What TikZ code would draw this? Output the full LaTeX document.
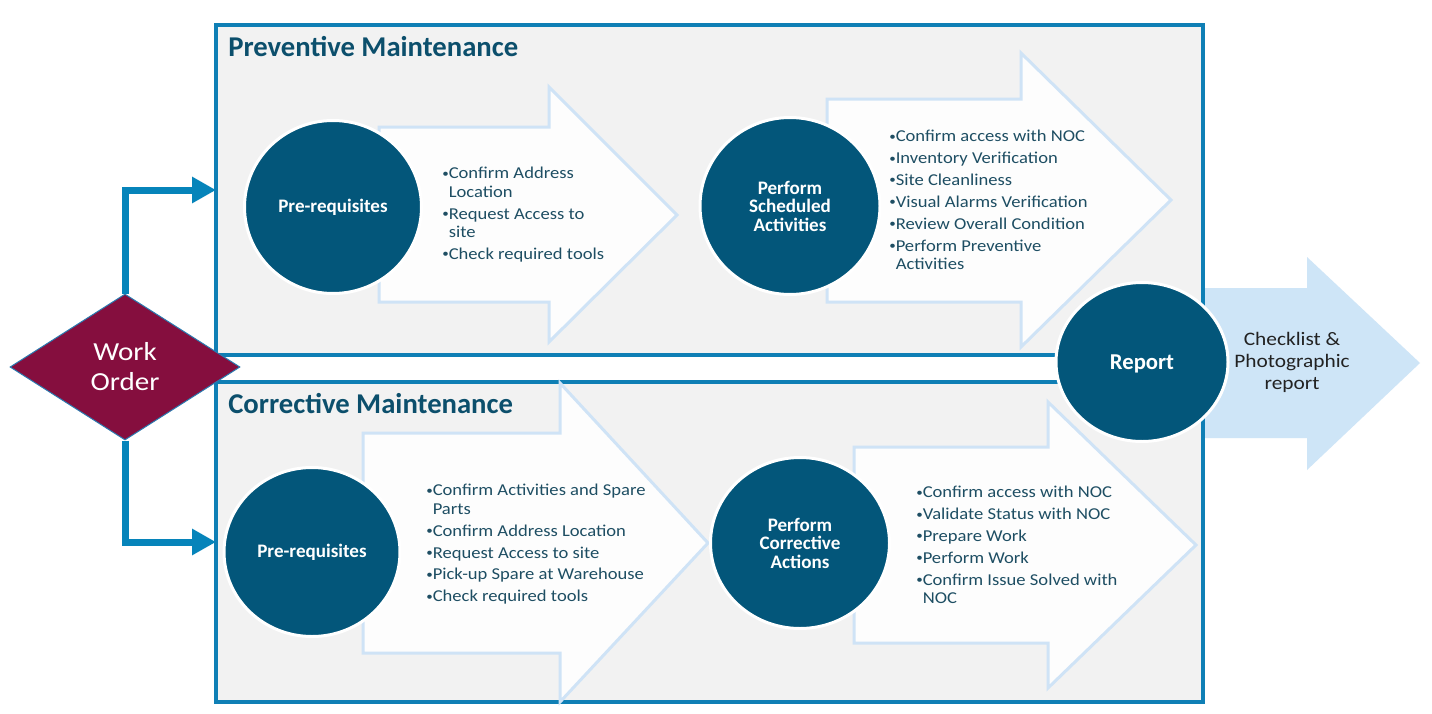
\documentclass[tikz,border=0pt]{standalone}
\usepackage{fontspec}
\setmainfont{Carlito}
\newfontfamily\regfont{Carlito}[FakeStretch=1.12]
\usetikzlibrary{shapes.geometric,arrows.meta}
\definecolor{boxblue}{HTML}{0F7FB5}
\definecolor{connblue}{HTML}{0684BA}
\definecolor{boxfill}{HTML}{F2F2F2}
\definecolor{circfill}{HTML}{03567A}
\definecolor{titlecol}{HTML}{0C4F6C}
\definecolor{bultext}{HTML}{1E4E63}
\definecolor{arrline}{HTML}{CFE3F6}
\definecolor{arrfill}{HTML}{FDFDFD}
\definecolor{repfill}{HTML}{CEE5F7}
\definecolor{wofill}{HTML}{850E3E}
\definecolor{woline}{HTML}{2A7AB0}
\definecolor{darktext}{HTML}{222222}
\newcommand\bul{\raisebox{0.1em}{\scalebox{0.7}{\textbullet}}}
\newcommand\ind{\phantom{\bul}}
\begin{document}
\begin{tikzpicture}[x=0.75pt,y=-0.75pt,
  panel/.style={draw=boxblue,fill=boxfill,line width=2.4pt,inner sep=0pt,outer sep=0pt,anchor=north west},
  blockarrow/.style={draw=arrline,fill=arrfill,line width=2.25pt,line join=miter},
  disc/.style={ellipse,fill=circfill,draw=white,line width=2.25pt,inner sep=0pt,text=white,align=center,font=\bfseries\fontsize{14.3}{13.9}\selectfont},
  bullets/.style={anchor=north west,inner sep=0pt,align=left,text=bultext,font=\regfont\fontsize{12.45}{13.9}\selectfont},
  paneltitle/.style={anchor=west,inner sep=0pt,text=titlecol,font=\bfseries\fontsize{21.5}{24}\selectfont},
  conn/.style={draw=connblue,line width=5.25pt,-{Triangle[length=18pt,width=18.75pt]}}
]
\useasboundingbox (0,0) rectangle (1432,714);
\fill[white] (0,0) rectangle (1432,714);

% report output arrow (behind panels)
\fill[repfill] (1150,288) -- (1307,288) -- (1307,257) -- (1420,363) -- (1307,470) -- (1307,438) -- (1150,438) -- cycle;

% panels
\node[panel,minimum width=740.25pt,minimum height=247.5pt] (pm) at (216,25) {};
\node[panel,minimum width=740.25pt,minimum height=240pt] (cm) at (216,382) {};

\node[paneltitle] (pmt) at (228,47) {Preventive Maintenance};
\node[paneltitle] (cmt) at (228,404) {Corrective Maintenance};

% block arrows
\draw[blockarrow] (379,127) -- (549,127) -- (549,87) -- (677,215) -- (549,342) -- (549,302) -- (379,302) -- cycle;
\draw[blockarrow] (827,99) -- (1021,99) -- (1021,53) -- (1171,200) -- (1021,347) -- (1021,302) -- (827,302) -- cycle;
\draw[blockarrow] (363,433) -- (560,433) -- (560,383) -- (708,543) -- (560,702) -- (560,653) -- (363,653) -- cycle;
\draw[blockarrow] (854,447) -- (1048,447) -- (1048,402) -- (1196,545) -- (1048,688) -- (1048,643) -- (854,643) -- cycle;

% discs
\node[disc,minimum width=132.75pt,minimum height=129.75pt] (c1) at (333,207) {Pre-requisites};
\node[disc,minimum width=135pt,minimum height=132.75pt] (c2) at (790,206) {Perform\\Scheduled\\Activities};
\node[disc,minimum width=132pt,minimum height=126.75pt] (c3) at (312,552) {Pre-requisites};
\node[disc,minimum width=134.25pt,minimum height=128.25pt] (c4) at (800,543) {Perform\\Corrective\\Actions};
\node[disc,minimum width=129pt,minimum height=119.25pt,text depth=0pt,font=\bfseries\fontsize{17}{20}\selectfont] (rep) at (1142,362) {Report};

% bullet lists
\node[bullets] (l1) at (442,167) {\bul Confirm Address\\
\ind Location\\[2.5pt]
\bul Request Access to\\
\ind site\\[2.5pt]
\bul Check required tools};

\node[bullets] (l2) at (889,130) {\bul Confirm access with NOC\\[2.5pt]
\bul Inventory Verification\\[2.5pt]
\bul Site Cleanliness\\[2.5pt]
\bul Visual Alarms Verification\\[2.5pt]
\bul Review Overall Condition\\[2.5pt]
\bul Perform Preventive\\
\ind Activities};

\node[bullets] (l3) at (426,484) {\bul Confirm Activities and Spare\\
\ind Parts\\[2.5pt]
\bul Confirm Address Location\\[2.5pt]
\bul Request Access to site\\[2.5pt]
\bul Pick-up Spare at Warehouse\\[2.5pt]
\bul Check required tools};

\node[bullets] (l4) at (916,486) {\bul Confirm access with NOC\\[2.5pt]
\bul Validate Status with NOC\\[2.5pt]
\bul Prepare Work\\[2.5pt]
\bul Perform Work\\[2.5pt]
\bul Confirm Issue Solved with\\
\ind NOC};

% report caption
\node[inner sep=0pt,align=center,text=darktext,font=\regfont\fontsize{14.3}{16.5}\selectfont] (cap) at (1292,362) {Checklist \&\\Photographic\\report};

% work order
\node[diamond,fill=wofill,draw=woline,line width=0.75pt,inner sep=0pt,minimum width=172.5pt,minimum height=109.5pt,text=white,align=center,font=\regfont\fontsize{19.5}{22.5}\selectfont] (wo) at (125,367) {Work\\Order};

% connectors
\draw[conn] (wo.north) |- (pm.west);
\draw[conn] (wo.south) |- (cm.west);
\end{tikzpicture}
\end{document}
